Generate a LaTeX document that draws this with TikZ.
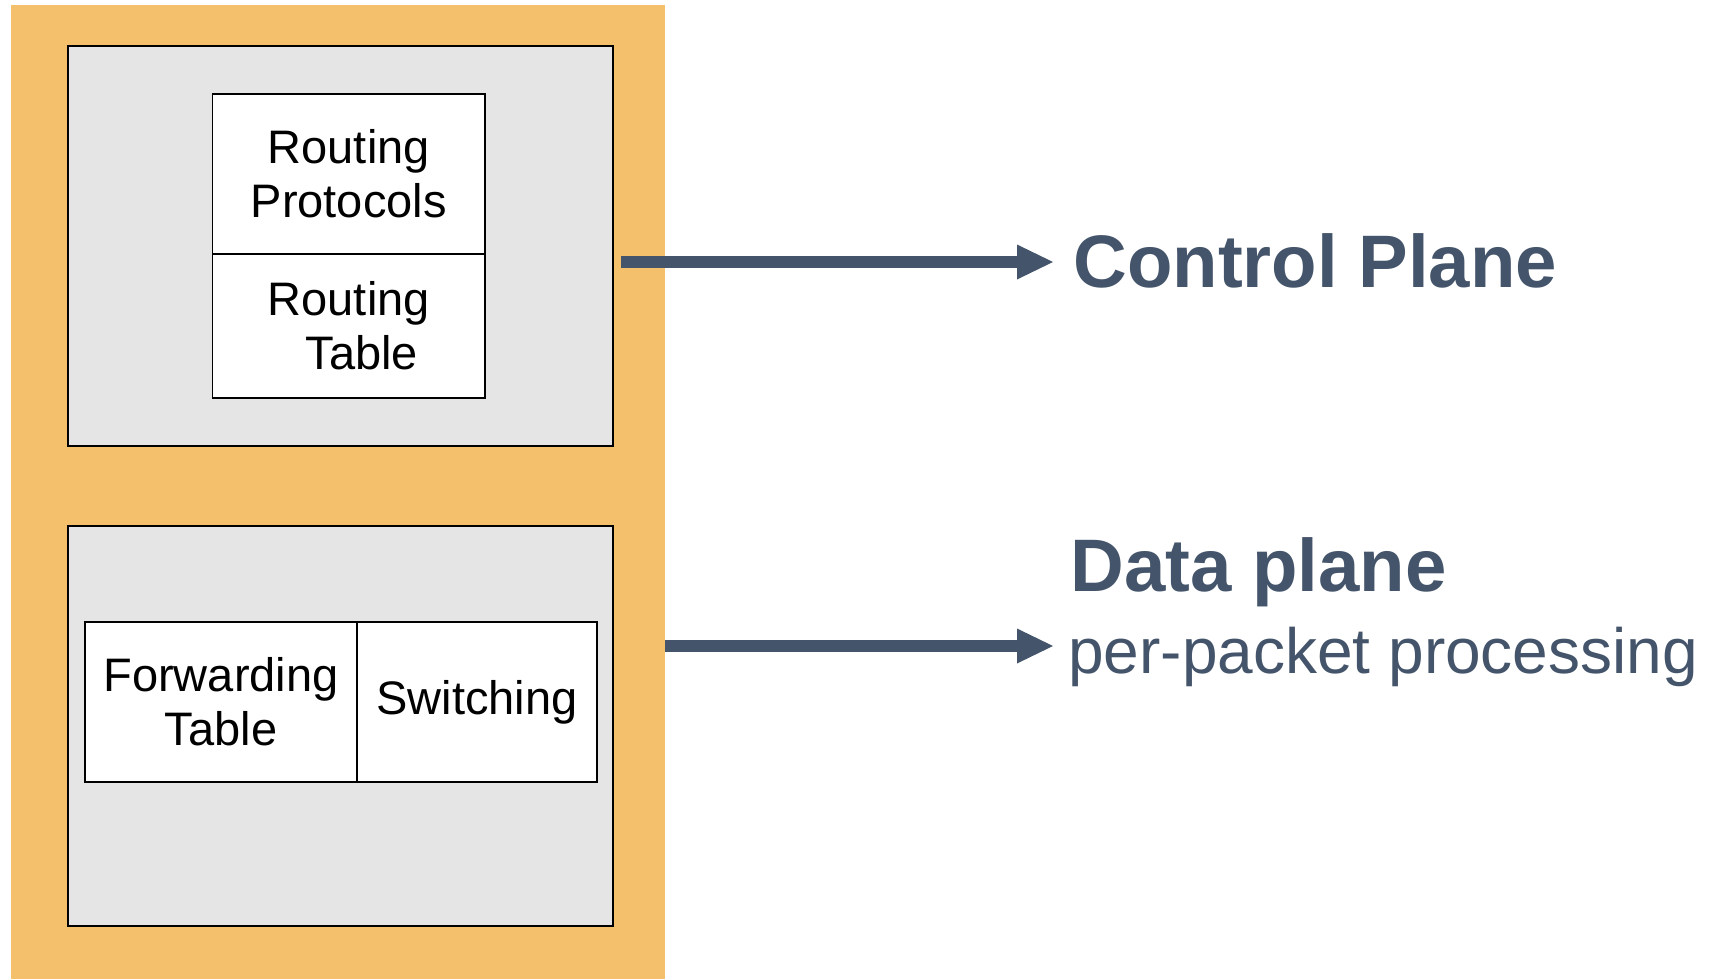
\documentclass[tikz,border=0pt]{standalone}
\usepackage{fontspec}
\setmainfont{Liberation Sans}
\usetikzlibrary{arrows.meta,positioning}
\definecolor{chassisorange}{RGB}{245,192,107}
\definecolor{planegray}{RGB}{229,229,229}
\definecolor{slateblue}{RGB}{68,84,106}

\begin{document}
\begin{tikzpicture}[
  x=0.5pt, y=-0.5pt,
  % ── box styles ───────────────────────────────────────────
  chassis/.style={rectangle, fill=chassisorange, inner sep=0pt,
    minimum width=327pt, minimum height=487pt},
  plane/.style={rectangle, fill=planegray, draw=black,
    line width=0.9pt, minimum width=272.5pt, minimum height=200pt},
  cell/.style={rectangle, fill=white, draw=black, line width=0.9pt,
    inner sep=0pt, outer sep=0pt, align=center,
    font=\fontsize{23.5pt}{27pt}\selectfont},
  % ── arrows and labels ────────────────────────────────────
  planearrow/.style={line width=6pt, draw=slateblue,
    -{Triangle[length=18pt,width=17.5pt,line width=0pt]}},
  planelbl/.style={anchor=base west, inner sep=0pt, text=slateblue,
    font=\fontsize{37.2pt}{44pt}\selectfont\bfseries},
  sublbl/.style={anchor=base west, inner sep=0pt, text=slateblue,
    font=\fontsize{32pt}{38pt}\selectfont},
]

\useasboundingbox (0,0) rectangle (1729,979);

%% ── ROUTER ───────────────────────────────────────────────────
\node[chassis] (router) at (338,492) {};
\node[plane] (ctrl) at (340.5,246) {};
\node[plane] (fwdplane) at (340.5,726) {};

%% ── CONTROL PLANE BLOCKS ─────────────────────────────────────
\node[cell, minimum width=136.25pt, minimum height=80pt]
  (rproto) at (348.75,173.7) {Routing\\Protocols};
\node[cell, minimum width=136.25pt, minimum height=72pt,
  below=0pt of rproto] (rtable) {Routing\\ \hspace*{13pt}Table};

%% ── DATA PLANE BLOCKS ────────────────────────────────────────
\node[cell, minimum width=136pt, minimum height=80pt]
  (fwd) at (221,702) {Forwarding\\Table};
\node[cell, minimum width=120pt, minimum height=80pt,
  right=0pt of fwd] (switch) {Switching};

%% ── LABELS ───────────────────────────────────────────────────
\node[planelbl] (cplane) at (1073,287) {Control Plane};
\node[planelbl] (dplane) at (1070,591) {Data plane};
\node[sublbl] (pktproc) at (1068,673) {per-packet processing};

%% ── ARROWS ───────────────────────────────────────────────────
\coordinate (cptip) at (1053,262);
\coordinate (dptip) at (1053,646);
\draw[planearrow, shorten <=3.5pt] (ctrl.east |- cptip) -- (cptip);
\draw[planearrow] (router.east |- dptip) -- (dptip);

\end{tikzpicture}
\end{document}
